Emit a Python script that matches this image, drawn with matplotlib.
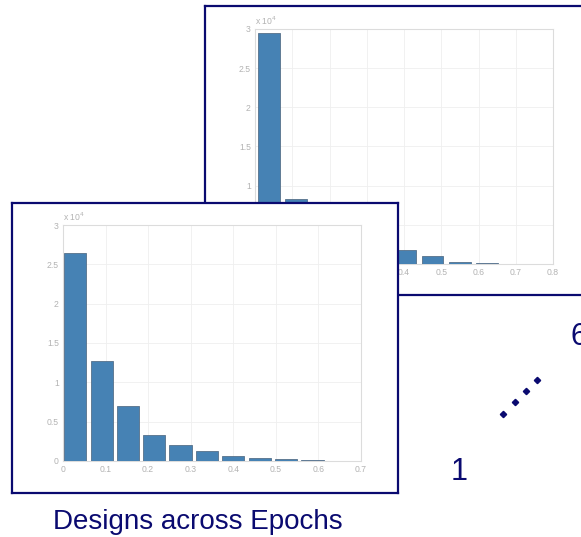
import matplotlib
matplotlib.use("Agg")
import matplotlib.pyplot as plt

plt.rcParams['font.family'] = ['Liberation Sans', 'DejaVu Sans']

# Histogram of the last epoch (back panel)
back_centers = [0.037, 0.110, 0.183, 0.257, 0.330, 0.403, 0.476, 0.550, 0.623, 0.696]
back_counts = [29440, 8330, 4500, 2900, 2100, 1750, 980, 210, 170, 60]
back_xticks = [0, 0.1, 0.2, 0.3, 0.4, 0.5, 0.6, 0.7, 0.8]

# Histogram of the first epoch (front panel)
front_centers = [0.029, 0.091, 0.153, 0.214, 0.276, 0.338, 0.400, 0.462, 0.524, 0.586]
front_counts = [26440, 12750, 6950, 3350, 1990, 1230, 640, 380, 210, 80]
front_xticks = [0, 0.1, 0.2, 0.3, 0.4, 0.5, 0.6, 0.7]

yticks = [0, 5000, 10000, 15000, 20000, 25000, 30000]
ytick_labels = ['0', '0.5', '1', '1.5', '2', '2.5', '3']

W, H = 581, 537
NAVY = '#0a0a70'
BAR = '#4682b4'
BAR_EDGE = '#56708a'
TICK = '#b3b3b3'
GRID = '#efefef'
SPINE = '#dcdcdc'

fig = plt.figure(figsize=(W / 100, H / 100), dpi=100)
fig.patch.set_facecolor('white')


def px_rect(x0, y0, x1, y1):
    return [x0 / W, 1 - y1 / H, (x1 - x0) / W, (y1 - y0) / H]


def frame(rect, z):
    ax = fig.add_axes(rect)
    ax.set_zorder(z)
    ax.set_facecolor('white')
    ax.set_xticks([])
    ax.set_yticks([])
    for s in ax.spines.values():
        s.set_color(NAVY)
        s.set_linewidth(1.6)
    return ax


def hist_axes(rect, z, centers, counts, width, xmax, xticks):
    ax = fig.add_axes(rect)
    ax.set_zorder(z)
    ax.set_facecolor('white')
    ax.bar(centers, counts, width=width, color=BAR, edgecolor=BAR_EDGE,
           linewidth=0.6, zorder=3)
    ax.set_xlim(0, xmax)
    ax.set_ylim(0, 30000)
    ax.set_xticks(xticks)
    ax.set_xticklabels([f'{t:g}' for t in xticks])
    ax.set_yticks(yticks)
    ax.set_yticklabels(ytick_labels)
    ax.tick_params(length=0, labelsize=6.2, colors=TICK, pad=3)
    ax.grid(True, color=GRID, linewidth=0.6, zorder=0)
    for s in ax.spines.values():
        s.set_color(SPINE)
        s.set_linewidth(0.8)
    ax.text(0.0, 1.01, r'x 10$^4$', transform=ax.transAxes, fontsize=6.2,
            color=TICK, ha='left', va='bottom')
    return ax


# back panel
frame(px_rect(205, 6, 600, 295), 1)
hist_axes(px_rect(255, 29, 553, 264), 2, back_centers, back_counts,
          0.058, 0.8, back_xticks)

# front panel
frame(px_rect(12, 203, 398, 493), 3)
hist_axes(px_rect(63, 225, 361, 461), 4, front_centers, front_counts,
          0.052, 0.7, front_xticks)

# overlay for labels in pixel coordinates
ov = fig.add_axes([0, 0, 1, 1])
ov.set_zorder(5)
ov.set_xlim(0, W)
ov.set_ylim(H, 0)
ov.axis('off')
ov.patch.set_alpha(0)

ov.text(198, 529, 'Designs across Epochs', fontsize=20, color=NAVY,
        ha='center', va='baseline')
ov.text(459, 480, '1', fontsize=22, color=NAVY, ha='center', va='baseline')
ov.text(570, 345, '6', fontsize=22, color=NAVY, ha='left', va='baseline')
ov.plot([503, 515, 526, 537], [414, 402, 391, 380], linestyle='none',
        marker='D', markersize=3.2, color=NAVY)

fig.savefig('out.png', dpi=100, facecolor='white')
